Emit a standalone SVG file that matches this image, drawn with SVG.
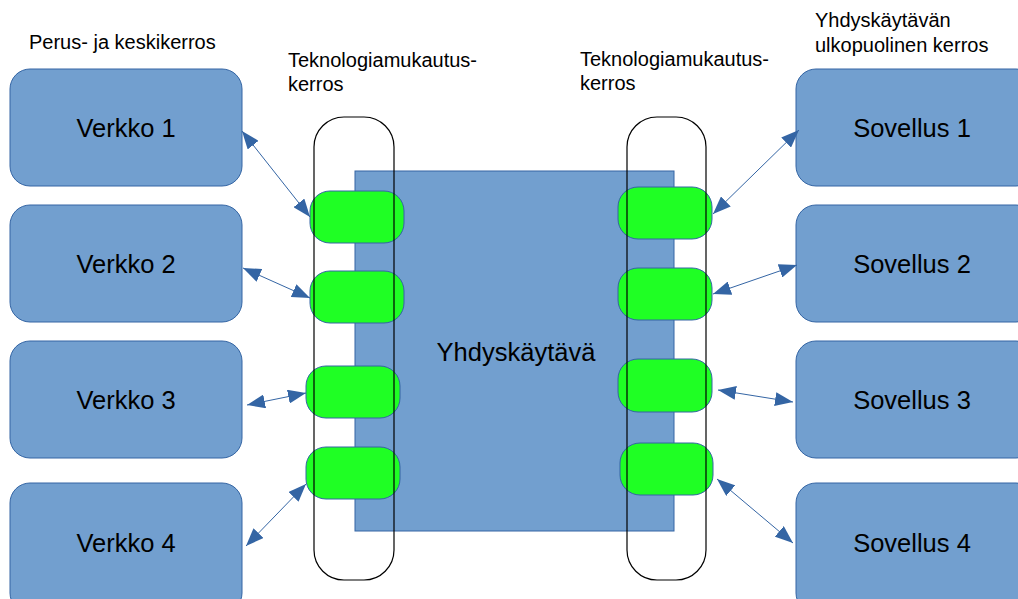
<svg xmlns="http://www.w3.org/2000/svg" width="1018" height="599" viewBox="0 0 1018 599">
  <style>
    .box { fill: #729fcf; stroke: #3465a4; stroke-width: 1; }
    .adapter { fill: #1fff24; stroke: #3465a4; stroke-width: 1; }
    .lane { fill: none; stroke: #000; stroke-width: 1.2; }
    .big { font-family: "Liberation Sans", Arial, sans-serif; font-size: 25.5px; fill: #000; text-anchor: middle; }
    .label { font-family: "Liberation Sans", Arial, sans-serif; font-size: 20px; fill: #000; }
    .link { stroke: #3465a4; stroke-width: 1; fill: none; marker-start: url(#head); marker-end: url(#head); }
  </style>
  <defs>
    <marker id="head" viewBox="0 0 18 14" refX="18" refY="7" markerWidth="18" markerHeight="14" markerUnits="userSpaceOnUse" orient="auto-start-reverse">
      <path d="M0,0 L18,7 L0,14 Z" fill="#3465a4"/>
    </marker>
  </defs>
  <rect width="1018" height="599" fill="#fff"/>

  <!-- layer titles -->
  <g id="titles">
    <text class="label" x="29" y="49">Perus- ja keskikerros</text>
    <text class="label" x="288" y="67">Teknologiamukautus-</text>
    <text class="label" x="288" y="91">kerros</text>
    <text class="label" x="580" y="66">Teknologiamukautus-</text>
    <text class="label" x="580" y="90">kerros</text>
    <text class="label" x="815" y="27">Yhdyskäytävän</text>
    <text class="label" x="815" y="52">ulkopuolinen kerros</text>
  </g>

  <!-- gateway core -->
  <g id="gateway">
    <rect class="box" x="355" y="171" width="319" height="360"/>
    <text class="big" x="516" y="361">Yhdyskäytävä</text>
  </g>

  <!-- networks -->
  <g id="verkko1"><rect class="box" x="10" y="69" width="232" height="117" rx="20"/><text class="big" x="126" y="137">Verkko 1</text></g>
  <g id="verkko2"><rect class="box" x="10" y="205" width="232" height="117" rx="20"/><text class="big" x="126" y="273">Verkko 2</text></g>
  <g id="verkko3"><rect class="box" x="10" y="341" width="232" height="117" rx="20"/><text class="big" x="126" y="409">Verkko 3</text></g>
  <g id="verkko4"><rect class="box" x="10" y="483" width="232" height="130" rx="20"/><text class="big" x="126" y="552">Verkko 4</text></g>

  <!-- applications -->
  <g id="sovellus1"><rect class="box" x="796" y="69" width="240" height="117" rx="20"/><text class="big" x="912" y="137">Sovellus 1</text></g>
  <g id="sovellus2"><rect class="box" x="796" y="205" width="240" height="117" rx="20"/><text class="big" x="912" y="273">Sovellus 2</text></g>
  <g id="sovellus3"><rect class="box" x="796" y="341" width="240" height="117" rx="20"/><text class="big" x="912" y="409">Sovellus 3</text></g>
  <g id="sovellus4"><rect class="box" x="796" y="483" width="240" height="130" rx="20"/><text class="big" x="912" y="552">Sovellus 4</text></g>

  <!-- adapters, left side -->
  <g id="adapterL1"><rect class="adapter" x="310" y="191" width="94" height="52" rx="20"/></g>
  <g id="adapterL2"><rect class="adapter" x="310" y="271" width="94" height="52" rx="20"/></g>
  <g id="adapterL3"><rect class="adapter" x="306" y="366" width="94" height="52" rx="20"/></g>
  <g id="adapterL4"><rect class="adapter" x="306" y="447" width="94" height="52" rx="20"/></g>

  <!-- adapters, right side -->
  <g id="adapterR1"><rect class="adapter" x="618" y="187" width="94" height="52" rx="20"/></g>
  <g id="adapterR2"><rect class="adapter" x="618" y="268" width="94" height="52" rx="20"/></g>
  <g id="adapterR3"><rect class="adapter" x="618" y="359" width="94" height="53" rx="20"/></g>
  <g id="adapterR4"><rect class="adapter" x="620" y="443" width="93" height="52" rx="20"/></g>

  <!-- adaptation layer outlines -->
  <g id="lanes">
    <rect class="lane" x="314" y="117" width="80" height="463" rx="30"/>
    <rect class="lane" x="627" y="117" width="79" height="463" rx="30"/>
  </g>

  <!-- connectors -->
  <g id="connectors">
    <line class="link" x1="242" y1="131" x2="310" y2="217"/>
    <line class="link" x1="243" y1="268" x2="310" y2="298"/>
    <line class="link" x1="247" y1="405" x2="306" y2="393"/>
    <line class="link" x1="246" y1="546" x2="306" y2="484"/>
    <line class="link" x1="799" y1="130" x2="713" y2="214"/>
    <line class="link" x1="797" y1="265" x2="713" y2="294"/>
    <line class="link" x1="718" y1="390" x2="793" y2="402"/>
    <line class="link" x1="717" y1="479" x2="793" y2="543"/>
  </g>
</svg>
